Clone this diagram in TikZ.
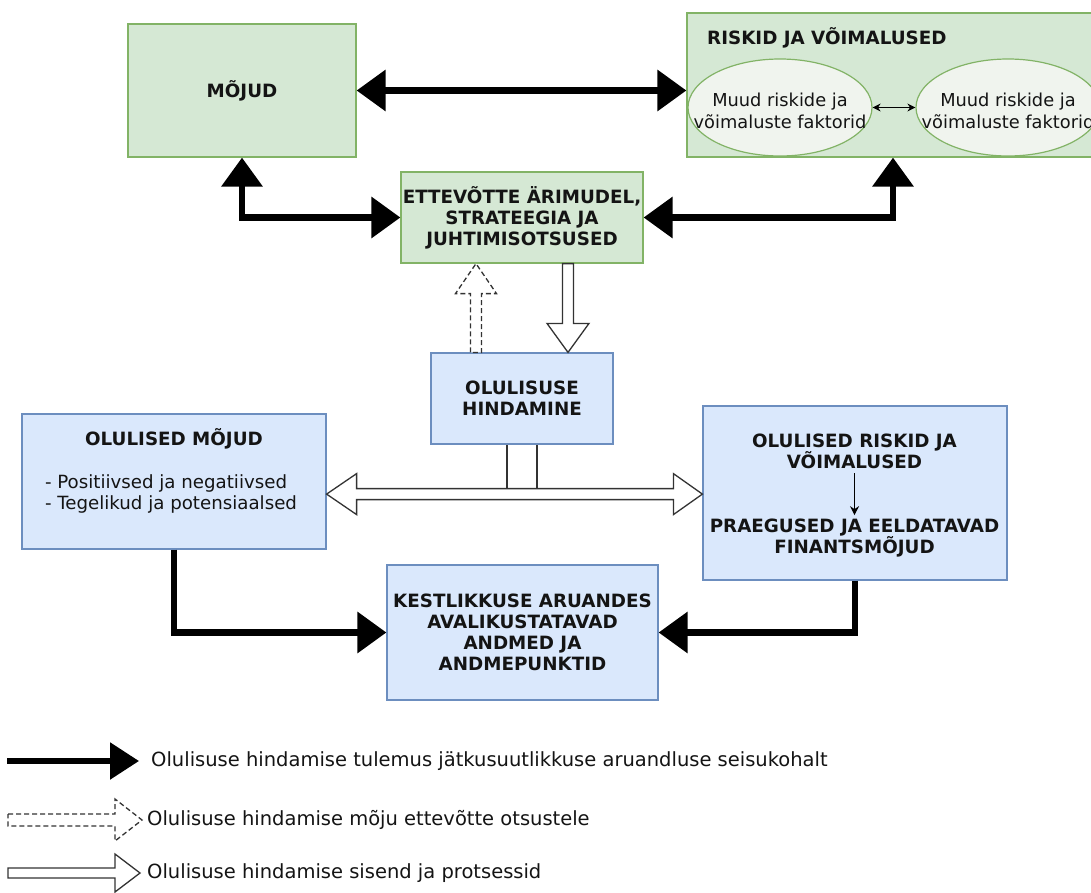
\documentclass[tikz,border=0pt]{standalone}
\usepackage{fontspec}
\setmainfont{DejaVu Sans}
\usetikzlibrary{arrows.meta,calc,shapes.geometric}

\definecolor{gfill}{HTML}{D5E8D4}
\definecolor{gline}{HTML}{82B366}
\definecolor{bfill}{HTML}{DAE8FC}
\definecolor{bline}{HTML}{6C8EBF}
\definecolor{efill}{HTML}{F0F4EE}
\definecolor{ink}{HTML}{141414}
\definecolor{outl}{HTML}{333333}

% hollow block arrow from #2 to #3 (style #1), shaft half width #4, head half width #5, head length #6
\newcommand\hollowarrow[6][]{%
  \coordinate (ha) at (#2);
  \coordinate (hb) at (#3);
  \coordinate (hh) at ($(hb)!#6!(ha)$);
  \draw[hollow,#1] ($(ha)!#4!90:(hb)$) -- ($(hh)!#4!90:(hb)$) -- ($(hh)!#5!90:(hb)$) -- (hb)
     -- ($(hh)!#5!-90:(hb)$) -- ($(hh)!#4!-90:(hb)$) -- ($(ha)!#4!-90:(hb)$) -- cycle;}

\tikzset{
  boxtext/.style={font=\fontsize{18.3}{21}\selectfont\bfseries, text=ink, align=center},
  greenbox/.style={draw=gline, fill=gfill, line width=1.2pt, inner sep=0pt, boxtext},
  bluebox/.style={draw=bline, fill=bfill, line width=1.2pt, inner sep=0pt, boxtext},
  factor/.style={ellipse, draw=gline, fill=efill, line width=1.2pt, inner sep=0pt,
    minimum width=184pt, minimum height=97pt},
  factortext/.style={inner sep=0pt, align=center, text=ink,
    font=\fontsize{17.8}{22}\selectfont},
  plain/.style={inner sep=0pt, text=ink, align=center},
  result/.style={line width=6.5pt, line join=miter, draw=black},
  resulttip/.style={-{Triangle[length=29pt,width=40pt]}},
  hollow/.style={draw=outl, fill=white, line width=1.3pt, line join=miter},
  dashhollow/.style={dash pattern=on 5pt off 3pt},
  legendtext/.style={inner sep=0pt, anchor=west, text=ink,
    font=\fontsize{19.5}{22}\selectfont},
}

\begin{document}
\begin{tikzpicture}[x=1pt,y=-1pt]
\clip (0,0) rectangle (1091,893);
\fill[white] (0,0) rectangle (1091,893);

% upper green blocks
\node[greenbox, minimum width=228pt, minimum height=133pt] (moj) at (242,90.5) {MÕJUD};
\node[greenbox, minimum width=412pt, minimum height=144pt] (ris) at (893,85) {};
\node[plain, anchor=west, boxtext] (ristitle) at (707,38) {RISKID JA VÕIMALUSED};
\node[factor] (fac1) at (780,107.5) {};
\node[factortext] (fac1t) at (780,111) {Muud riskide ja\\võimaluste faktorid};
\node[factor] (fac2) at (1008,107.5) {};
\node[factortext] (fac2t) at (1008,111) {Muud riskide ja\\võimaluste faktorid};
\node[greenbox, minimum width=242pt, minimum height=91pt] (ett) at (522,217.5)
  {ETTEVÕTTE ÄRIMUDEL,\\STRATEEGIA JA\\JUHTIMISOTSUSED};

% blue blocks
\node[bluebox, minimum width=182pt, minimum height=91pt] (hind) at (522,398.5)
  {OLULISUSE\\HINDAMINE};
\node[bluebox, minimum width=304pt, minimum height=135pt] (om) at (174,481.5) {};
\node[plain, boxtext] (omtitle) at (174,439) {OLULISED MÕJUD};
\node[plain, align=left, font=\fontsize{18.2}{21}\selectfont] (omlist) at (171,493.5)
  {- Positiivsed ja negatiivsed\\- Tegelikud ja potensiaalsed};
\node[bluebox, minimum width=304pt, minimum height=174pt] (or) at (855,493) {};
\node[plain, boxtext, inner sep=4pt] (ortop) at (854.5,451.5) {OLULISED RISKID JA\\VÕIMALUSED};
\node[plain, boxtext, inner sep=4pt] (orbot) at (854.5,538.5) {PRAEGUSED JA EELDATAVAD\\FINANTSMÕJUD};
\node[bluebox, minimum width=271pt, minimum height=135pt] (kest) at (522.5,632.5)
  {KESTLIKKUSE ARUANDES\\AVALIKUSTATAVAD\\ANDMED JA\\ANDMEPUNKTID};

% arrows between the factors and inside the risk block
\draw[line width=1.3pt, {Stealth[length=8pt,width=8pt]}-{Stealth[length=8pt,width=8pt]}]
  (fac1.east) -- (fac2.west);
\draw[line width=1.3pt, -{Stealth[length=9pt,width=9pt]}] (ortop.south) -- (orbot.north);

% assessment results (black arrows)
\draw[result, {Triangle[length=29pt,width=40pt]}-{Triangle[length=29pt,width=40pt]}]
  (moj.east) -- (moj.east -| ris.west);
\draw[result, {Triangle[length=29pt,width=40pt]}-{Triangle[length=29pt,width=40pt]}]
  (moj.south) |- (ett.west);
\draw[result, {Triangle[length=29pt,width=40pt]}-{Triangle[length=29pt,width=40pt]}]
  (ris.south) |- (ett.east);
\draw[result, resulttip] (om.south) |- (kest.west);
\draw[result, resulttip] (or.south) |- (kest.east);

% assessment inputs and processes (hollow arrows)
\hollowarrow{$(ett.south)+(46,0)$}{$(hind.north)+(46,0)$}{5.5pt}{21pt}{29pt}
\hollowarrow[dashhollow]{$(hind.north)+(-46,0)$}{$(ett.south)+(-46,0)$}{5.5pt}{20.5pt}{30pt}

% two-headed hollow arrow from the assessment to both material blocks
\coordinate (mid) at ($(hind.south)+(0,49.5)$);
\coordinate (ml) at (om.east |- mid);
\coordinate (mr) at (or.west |- mid);
\draw[hollow] (ml) -- ($(ml)+(30,-20.5)$) -- ($(ml)+(30,-5.5)$) -- ($(mr)+(-29,-5.5)$)
  -- ($(mr)+(-29,-20.5)$) -- (mr) -- ($(mr)+(-29,20.5)$) -- ($(mr)+(-29,5.5)$)
  -- ($(ml)+(30,5.5)$) -- ($(ml)+(30,20.5)$) -- cycle;
\draw[hollow] ($(hind.south)+(-15,0)$) -- ($(hind.south)+(-15,44)$);
\draw[hollow] ($(hind.south)+(15,0)$) -- ($(hind.south)+(15,44)$);

% legend
\coordinate (l1a) at (7,761);
\coordinate (l1b) at (139,761);
\draw[line width=5.5pt, -{Triangle[length=29pt,width=36pt]}] (l1a) -- (l1b);
\node[legendtext] (lt1) at (151,761) {Olulisuse hindamise tulemus jätkusuutlikkuse aruandluse seisukohalt};
\coordinate (l2a) at (8,820);
\coordinate (l2b) at (142,820);
\hollowarrow[dashhollow]{l2a}{l2b}{6pt}{21pt}{27pt}
\node[legendtext] (lt2) at (147,820) {Olulisuse hindamise mõju ettevõtte otsustele};
\coordinate (l3a) at (8,873);
\coordinate (l3b) at (140,873);
\hollowarrow{l3a}{l3b}{5pt}{19pt}{25pt}
\node[legendtext] (lt3) at (147,873) {Olulisuse hindamise sisend ja protsessid};
\end{tikzpicture}
\end{document}
